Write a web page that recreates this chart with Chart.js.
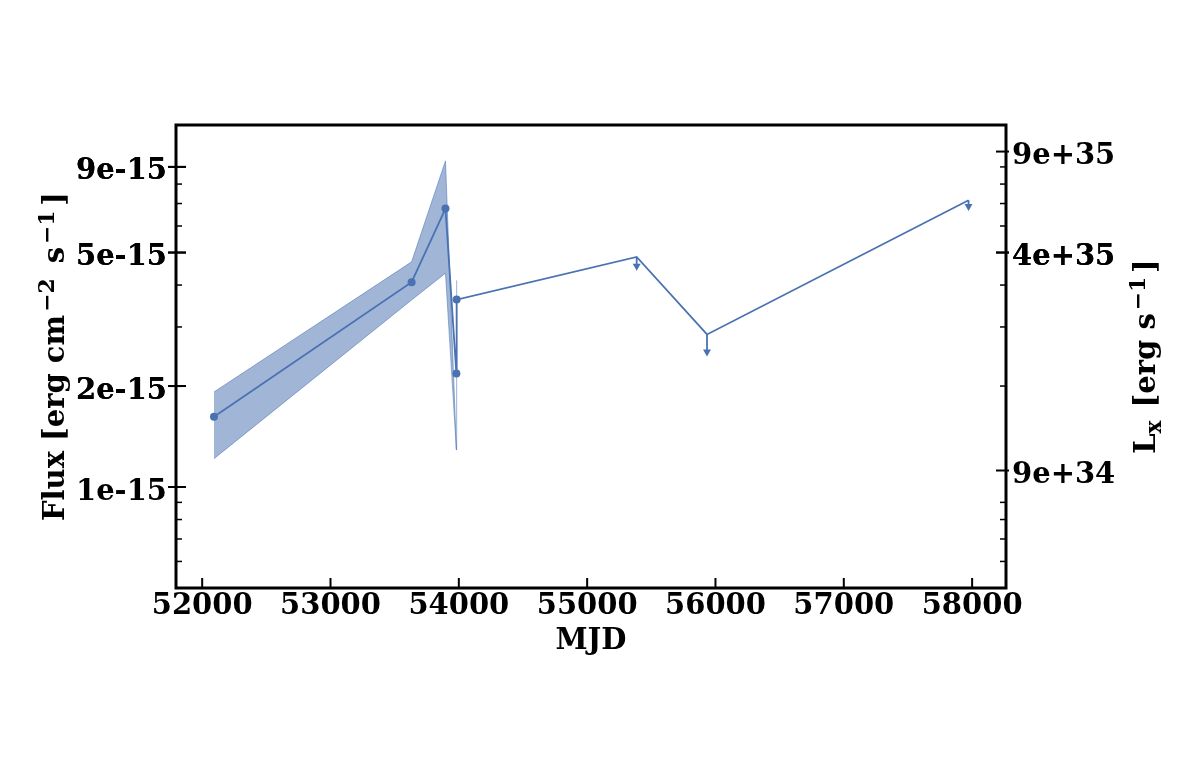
<!DOCTYPE html>
<html>
<head>
<meta charset="utf-8">
<script src="https://cdn.jsdelivr.net/npm/chart.js@4.4.0/dist/chart.umd.min.js"></script>
<style>
  html, body { margin: 0; padding: 0; background: #fff; }
  canvas { display: block; }
</style>
</head>
<body>
<canvas id="lightCurve" width="1196" height="782"></canvas>
<script>
// detections (flux in erg cm^-2 s^-1)
const detMjd = [52092, 53632, 53896, 53981, 53983];
const detFlux = [1.62e-15, 4.08e-15, 6.76e-15, 2.18e-15, 3.62e-15];
const bandHigh = [1.92e-15, 4.69e-15, 9.38e-15, 1.29e-15, 4.13e-15];
const bandLow = [1.215e-15, 3.61e-15, 4.34e-15, 1.29e-15, 1.29e-15];

// upper limits
const ulMjd = [55386, 55934, 57972];
const ulFlux = [4.85e-15, 2.85e-15, 7.16e-15];
const ulTip = [4.41e-15, 2.45e-15, 6.65e-15];

// axes
const xTicks = [52000, 53000, 54000, 55000, 56000, 57000, 58000];
const leftTickValues = [9e-15, 5e-15, 2e-15, 1e-15];
const leftTickLabels = ['9e-15', '5e-15', '2e-15', '1e-15'];
const rightTickValues = [1e36, 5e35, 1.12e35];
const rightTickLabels = ['9e+35', '4e+35', '9e+34'];

const FONT = '"DejaVu Serif", serif';
const FSIZE = 29;
const BLUE = '#4a72b2';
const BAND = 'rgba(74, 114, 178, 0.52)';

// minor log ticks: 2..9 x 10^n inside [lo, hi]
function logMinors(lo, hi) {
    const out = [];
    for (let e = Math.floor(Math.log10(lo)); e <= Math.ceil(Math.log10(hi)); e++) {
        for (let m = 2; m <= 9; m++) {
            const v = m * Math.pow(10, e);
            if (v >= lo && v <= hi) out.push(v);
        }
    }
    return out;
}

function findIdx(list, v) {
    return list.findIndex((t) => Math.abs(t - v) / t < 1e-6);
}

function pts(xs, ys) {
    return xs.map((x, i) => ({ x: x, y: ys[i] }));
}

// 带上下标的旋转文字
function drawRich(ctx, parts, cx, cy) {
    ctx.save();
    ctx.translate(cx, cy);
    ctx.rotate(-Math.PI / 2);
    ctx.textBaseline = 'alphabetic';
    ctx.textAlign = 'left';
    ctx.fillStyle = '#000';
    let total = 0;
    const widths = parts.map((p) => {
        ctx.font = `bold ${FSIZE * p[1]}px ${FONT}`;
        const w = ctx.measureText(p[0]).width + (p[3] || 0);
        total += w;
        return w;
    });
    let x = -total / 2;
    parts.forEach((p, i) => {
        ctx.font = `bold ${FSIZE * p[1]}px ${FONT}`;
        ctx.fillText(p[0], x + (p[4] || 0), p[2] * FSIZE);
        x += widths[i];
    });
    ctx.restore();
}

const decorPlugin = {
    id: 'decor',
    afterDatasetsDraw(chart) {
        const ctx = chart.ctx;
        const xs = chart.scales.x;
        const ys = chart.scales.y;
        ctx.save();
        ctx.strokeStyle = BLUE;
        ctx.fillStyle = BLUE;
        ctx.lineWidth = 1.8;
        ulMjd.forEach((m, i) => {
            const px = xs.getPixelForValue(m);
            const y0 = ys.getPixelForValue(ulFlux[i]);
            const y1 = ys.getPixelForValue(ulTip[i]);
            ctx.beginPath();
            ctx.moveTo(px, y0);
            ctx.lineTo(px, y1 - 3);
            ctx.stroke();
            ctx.beginPath();
            ctx.moveTo(px - 4, y1 - 7);
            ctx.lineTo(px + 4, y1 - 7);
            ctx.lineTo(px, y1);
            ctx.closePath();
            ctx.fill();
        });
        ctx.restore();
    },
    afterDraw(chart) {
        const ctx = chart.ctx;
        const a = chart.chartArea;
        const xs = chart.scales.x;
        const ys = chart.scales.y;
        const yr = chart.scales.y2;
        ctx.save();
        ctx.strokeStyle = '#000';

        // tick marks
        ys.ticks.forEach((t) => {
            const y = ys.getPixelForValue(t.value);
            if (y < a.top || y > a.bottom) return;
            const major = findIdx(leftTickValues, t.value) >= 0;
            ctx.lineWidth = major ? 2 : 1.5;
            ctx.beginPath();
            ctx.moveTo(a.left - (major ? 8 : 0), y);
            ctx.lineTo(a.left + (major ? 10 : 6), y);
            ctx.stroke();
        });
        yr.ticks.forEach((t) => {
            const y = yr.getPixelForValue(t.value);
            if (y < a.top || y > a.bottom) return;
            const major = findIdx(rightTickValues, t.value) >= 0;
            ctx.lineWidth = major ? 2 : 1.5;
            ctx.beginPath();
            ctx.moveTo(a.right + (major ? 3 : 0), y);
            ctx.lineTo(a.right - (major ? 10 : 6), y);
            ctx.stroke();
        });
        xs.ticks.forEach((t) => {
            const x = xs.getPixelForValue(t.value);
            ctx.lineWidth = 2;
            ctx.beginPath();
            ctx.moveTo(x, a.bottom);
            ctx.lineTo(x, a.bottom - 10);
            ctx.stroke();
        });

        // frame
        ctx.lineWidth = 3;
        ctx.strokeRect(a.left, a.top, a.right - a.left, a.bottom - a.top);

        // axis titles
        ctx.fillStyle = '#000';
        ctx.font = `bold ${FSIZE}px ${FONT}`;
        ctx.textAlign = 'center';
        ctx.textBaseline = 'alphabetic';
        ctx.fillText('MJD', (a.left + a.right) / 2, 649);
        const cy = (a.top + a.bottom) / 2;
        drawRich(ctx, [
            ['Flux [erg cm', 1, 0, 3],
            ['\u22122', 0.75, -0.36, 5],
            [' s', 1, 0, 3],
            ['\u22121', 0.75, -0.36, 5],
            [']', 1, 0],
        ], 64, cy);
        drawRich(ctx, [
            ['L', 1, 0],
            ['x', 0.75, 0.22, 3],
            [' [erg s', 1, 0, 3],
            ['\u22121', 0.75, -0.36, 4],
            [']', 1, 0],
        ], 1155, cy);
        ctx.restore();
    },
};

const tickFont = { family: FONT, size: FSIZE, weight: 'bold', lineHeight: 1 };

new Chart(document.getElementById('lightCurve').getContext('2d'), {
    type: 'line',
    data: {
        datasets: [
            {
                label: 'flux',
                data: pts(detMjd.concat(ulMjd), detFlux.concat(ulFlux)),
                borderColor: BLUE,
                borderWidth: 1.8,
                pointRadius: detMjd.map(() => 4).concat(ulMjd.map(() => 0)),
                pointBackgroundColor: BLUE,
                pointBorderWidth: 0,
                fill: false,
                tension: 0,
                yAxisID: 'y',
            },
            {
                label: 'high',
                data: pts(detMjd, bandHigh),
                borderColor: 'rgba(74, 114, 178, 0.55)',
                borderWidth: 1,
                backgroundColor: BAND,
                pointRadius: 0,
                fill: '+1',
                tension: 0,
                yAxisID: 'y',
            },
            {
                label: 'low',
                data: pts(detMjd, bandLow),
                borderColor: 'rgba(74, 114, 178, 0.55)',
                borderWidth: 1,
                pointRadius: 0,
                fill: false,
                tension: 0,
                yAxisID: 'y',
            },
        ],
    },
    options: {
        responsive: false,
        animation: false,
        layout: { padding: { top: 125, left: 0, right: 0, bottom: 0 } },
        plugins: {
            legend: { display: false },
            tooltip: { enabled: false },
        },
        scales: {
            x: {
                type: 'linear',
                min: 51796,
                max: 58264,
                grid: { display: false, drawTicks: false },
                border: { display: false },
                afterBuildTicks: (s) => { s.ticks = xTicks.map((v) => ({ value: v })); },
                afterFit: (s) => { s.height = 194; },
                ticks: {
                    autoSkip: false,
                    maxRotation: 0,
                    padding: 4,
                    color: '#000',
                    font: tickFont,
                    callback: (v) => String(v),
                },
            },
            y: {
                type: 'logarithmic',
                position: 'left',
                min: 5e-16,
                max: 1.2e-14,
                grid: { display: false, drawTicks: false },
                border: { display: false },
                afterBuildTicks: (s) => {
                    s.ticks = leftTickValues.concat(logMinors(5e-16, 1.2e-14)).map((v) => ({ value: v }));
                },
                afterFit: (s) => { s.width = 176; },
                ticks: {
                    autoSkip: false,
                    padding: 9,
                    labelOffset: 5,
                    color: '#000',
                    font: tickFont,
                    callback: (v) => {
                        const i = findIdx(leftTickValues, v);
                        return i >= 0 ? leftTickLabels[i] : '';
                    },
                },
            },
            y2: {
                type: 'logarithmic',
                position: 'right',
                min: 5e34,
                max: 1.2e36,
                grid: { display: false, drawTicks: false },
                border: { display: false },
                afterBuildTicks: (s) => {
                    s.ticks = rightTickValues.concat(logMinors(5e34, 1.2e36)).map((v) => ({ value: v }));
                },
                afterFit: (s) => { s.width = 190; },
                ticks: {
                    autoSkip: false,
                    padding: 6,
                    labelOffset: 5,
                    color: '#000',
                    font: tickFont,
                    callback: (v) => {
                        const i = findIdx(rightTickValues, v);
                        return i >= 0 ? rightTickLabels[i] : '';
                    },
                },
            },
        },
    },
    plugins: [decorPlugin],
});
</script>
</body>
</html>
